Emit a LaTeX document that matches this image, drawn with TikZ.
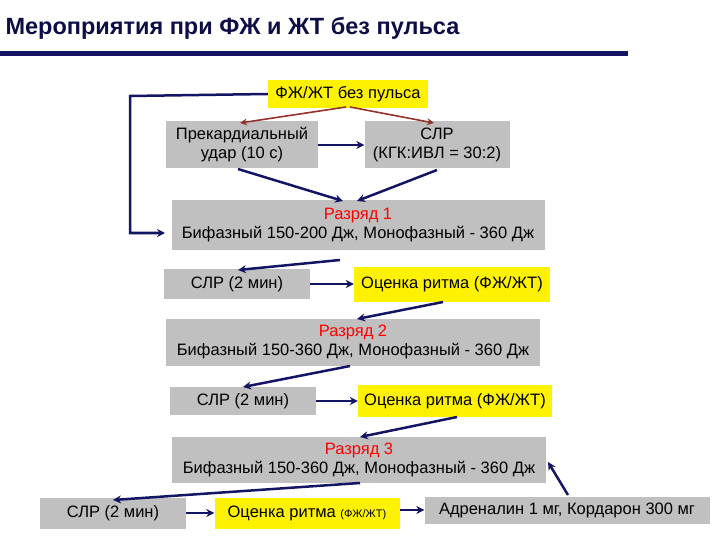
\documentclass[tikz,border=0pt]{standalone}
\usepackage{fontspec}
\setmainfont{Liberation Sans}
\usetikzlibrary{arrows.meta}
\definecolor{navy}{RGB}{20,20,100}
\definecolor{boxg}{RGB}{192,192,192}
\definecolor{brn}{RGB}{150,50,40}
\begin{document}
\begin{tikzpicture}[x=1pt,y=-1pt,
 gbox/.style={fill=boxg,inner sep=0pt,font=\fontsize{16.5}{19}\selectfont,align=center},
 ybox/.style={fill=yellow,inner sep=0pt,font=\fontsize{16.5}{19}\selectfont,align=center},
 arr/.style={draw=navy,line width=2.5pt,-{Stealth[length=8pt,width=8pt]}},
 rarr/.style={draw=brn,line width=1.6pt,-{Stealth[length=7pt,width=7pt]}}]
\useasboundingbox (0,0) rectangle (720,540);
\node[anchor=west,font=\fontsize{23.5}{27}\selectfont\bfseries,text=navy!70!black] (title) at (2,28) {Мероприятия при ФЖ и ЖТ без пульса};
\fill[navy] (0,51) rectangle (628,56);
\node[ybox,minimum width=160pt,minimum height=28pt] (start) at (348,94) {ФЖ/ЖТ без пульса};
\node[gbox,minimum width=152pt,minimum height=47pt] (pk) at (242,145) {Прекардиальный\\удар (10 с)};
\node[gbox,minimum width=145pt,minimum height=47pt] (slr) at (437,145) {СЛР\\(КГК:ИВЛ = 30:2)};
\node[gbox,minimum width=373pt,minimum height=50pt] (r1) at (358,225) {\textcolor{red}{Разряд 1}\\Бифазный 150-200 Дж, Монофазный - 360 Дж};
\node[gbox,minimum width=146pt,minimum height=30pt] (s1) at (237,284) {СЛР (2 мин)};
\node[ybox,minimum width=196pt,minimum height=35pt] (o1) at (452,284) {Оценка ритма (ФЖ/ЖТ)};
\node[gbox,minimum width=374pt,minimum height=47pt] (r2) at (353,342) {\textcolor{red}{Разряд 2}\\Бифазный 150-360 Дж, Монофазный - 360 Дж};
\node[gbox,minimum width=146pt,minimum height=28pt] (s2) at (243,401) {СЛР (2 мин)};
\node[ybox,minimum width=194pt,minimum height=32pt] (o2) at (455,401) {Оценка ритма (ФЖ/ЖТ)};
\node[gbox,minimum width=374pt,minimum height=46pt] (r3) at (359,460) {\textcolor{red}{Разряд 3}\\Бифазный 150-360 Дж, Монофазный - 360 Дж};
\node[gbox,minimum width=146pt,minimum height=31pt] (s3) at (113,513) {СЛР (2 мин)};
\node[ybox,minimum width=185pt,minimum height=31pt] (o3) at (307,513) {Оценка ритма {\fontsize{11}{13}\selectfont(ФЖ/ЖТ)}};
\node[gbox,minimum width=285pt,minimum height=27pt] (adr) at (567,510) {Адреналин 1 мг, Кордарон 300 мг};
\coordinate (c1) at (130,96);
\coordinate (c2) at (130,233);
\draw[arr] (start.west) -- (c1) -- (c2) -- (165,233);
\draw[rarr] (346,107) -- (240,123);
\draw[rarr] (350,107) -- (434,123);
\draw[arr] (pk.east) -- (slr.west);
\draw[arr] (238,169) -- (343,201);
\draw[arr] (437,170) -- (357,201);
\draw[arr] (340,260) -- (238,270);
\draw[arr] (s1.east) -- (o1.west);
\draw[arr] (443,302) -- (357,319);
\draw[arr] (350,366) -- (243,387);
\draw[arr] (s2.east) -- (o2.west);
\draw[arr] (457,417) -- (360,437);
\draw[arr] (360,483) -- (113,500);
\draw[arr] (s3.east) -- (o3.west);
\draw[arr] (o3.east |- adr.west) -- (adr.west);
\draw[arr] (568,495) -- (548,462);
\end{tikzpicture}
\end{document}
